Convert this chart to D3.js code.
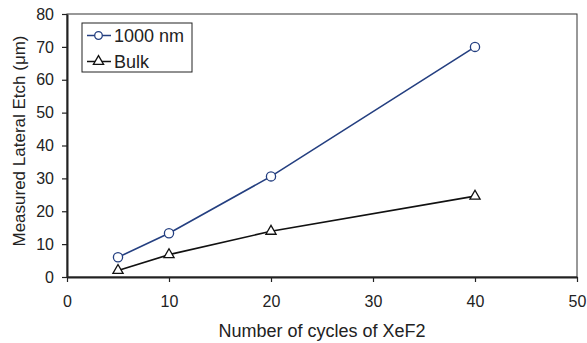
<!DOCTYPE html>
<html>
<head>
<meta charset="utf-8">
<script src="https://cdn.jsdelivr.net/npm/d3@7"></script>
<style>
  html, body { margin: 0; padding: 0; background: #fff; }
  svg { display: block; font-family: "Liberation Sans", Arial, sans-serif; }
</style>
</head>
<body>
<svg id="chart" width="587" height="343"></svg>
<script>
// Lateral etch vs. XeF2 cycle count
const cycles = [5, 10, 20, 40];
const etch1000nm = [6.0, 13.3, 30.6, 70.0];
const etchBulk = [2.0, 6.8, 13.9, 24.6];
const xTicks = [0, 10, 20, 30, 40, 50];
const yTicks = [0, 10, 20, 30, 40, 50, 60, 70, 80];
const seriesNames = ["1000 nm", "Bulk"];
const seriesColors = ["#243f80", "#111111"];

const svg = d3.select("#chart");
const margin = { left: 67, top: 14, right: 10, bottom: 66 };
const W = 587, H = 343;
const FONT = "'Liberation Sans', Arial, sans-serif";

const x = d3.scaleLinear().domain([0, 50]).range([margin.left, W - margin.right]);
const y = d3.scaleLinear().domain([0, 80]).range([H - margin.bottom, margin.top]);

// plot frame (thin top/right edges)
svg.append("rect")
  .attr("x", x(0)).attr("y", y(80))
  .attr("width", x(50) - x(0)).attr("height", y(0) - y(80))
  .attr("fill", "none").attr("stroke", "#333").attr("stroke-width", 1);

const xAxis = svg.append("g")
  .attr("transform", `translate(0,${y(0)})`)
  .call(d3.axisBottom(x).tickValues(xTicks).tickSize(5).tickPadding(14).tickSizeOuter(0));
const yAxis = svg.append("g")
  .attr("transform", `translate(${x(0)},0)`)
  .call(d3.axisLeft(y).tickValues(yTicks).tickSize(5).tickPadding(8).tickSizeOuter(0));

[xAxis, yAxis].forEach(g => {
  g.select(".domain").attr("stroke", "#222").attr("stroke-width", 2);
  g.selectAll(".tick line").attr("stroke", "#222").attr("stroke-width", 1.2);
  g.selectAll(".tick text").attr("fill", "#222").attr("font-size", 16)
    .attr("font-family", FONT);
});

// axis titles
svg.append("text")
  .attr("x", (x(0) + x(50)) / 2).attr("y", 337)
  .attr("text-anchor", "middle").attr("font-size", 18).attr("fill", "#222")
  .text("Number of cycles of XeF2");
svg.append("text")
  .attr("transform", `translate(25,141) rotate(-90)`)
  .attr("text-anchor", "middle").attr("font-size", 17).attr("fill", "#222")
  .text("Measured Lateral Etch (μm)");

const line = d3.line().x(d => x(d[0])).y(d => y(d[1]));
const tri = d3.symbol().type(d3.symbolTriangle).size(45);

function drawMarker(g, cx, cy, color, marker, r) {
  if (marker === "circle") {
    g.append("circle").attr("cx", cx).attr("cy", cy).attr("r", r)
      .attr("fill", "#fff").attr("stroke", color).attr("stroke-width", 1.3);
  } else {
    g.append("path").attr("d", tri).attr("transform", `translate(${cx},${cy})`)
      .attr("fill", "#fff").attr("stroke", color).attr("stroke-width", 1.3);
  }
}

function drawSeries(vals, color, marker) {
  const pts = cycles.map((c, i) => [c, vals[i]]);
  svg.append("path").datum(pts).attr("d", line)
    .attr("fill", "none").attr("stroke", color).attr("stroke-width", 1.6);
  const g = svg.append("g");
  pts.forEach(p => drawMarker(g, x(p[0]), y(p[1]), color, marker, 4.6));
}

drawSeries(etch1000nm, seriesColors[0], "circle");
drawSeries(etchBulk, seriesColors[1], "triangle");

// legend
const lg = svg.append("g");
lg.append("rect").attr("x", 82).attr("y", 23).attr("width", 110).attr("height", 49)
  .attr("fill", "#fff").attr("stroke", "#222").attr("stroke-width", 1);
["circle", "triangle"].forEach((m, i) => {
  const ly = 35.5 + i * 26;
  lg.append("line").attr("x1", 87).attr("x2", 111).attr("y1", ly).attr("y2", ly)
    .attr("stroke", seriesColors[i]).attr("stroke-width", 1.5);
  drawMarker(lg, 98.5, ly, seriesColors[i], m, 3.8);
  lg.append("text").attr("x", 114).attr("y", ly + 6.5).attr("font-size", 18).attr("fill", "#222")
    .attr("font-family", FONT)
    .text(seriesNames[i]);
});
</script>
</body>
</html>
